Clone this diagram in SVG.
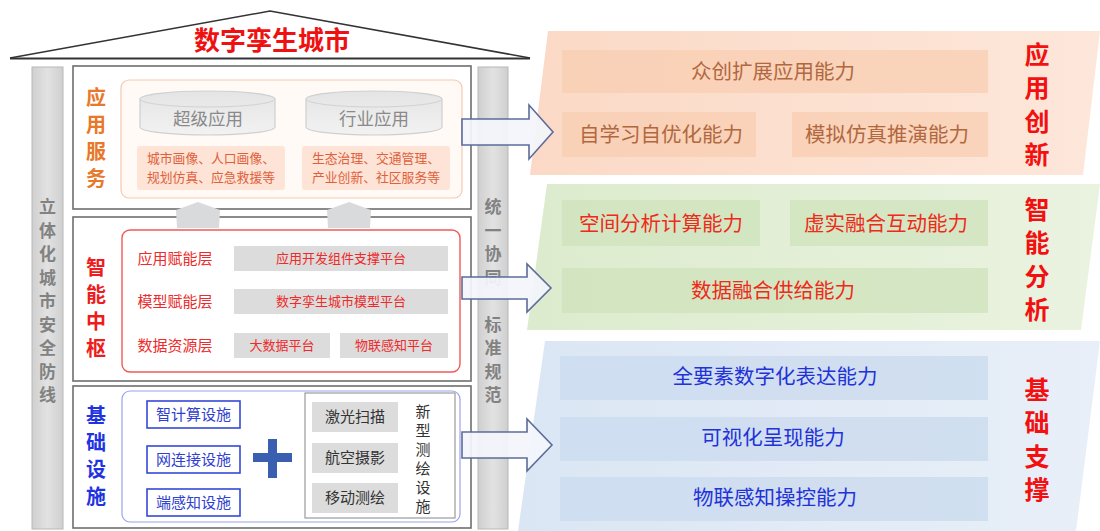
<svg xmlns="http://www.w3.org/2000/svg" width="1100" height="531" viewBox="0 0 1100 531">
<defs>
<linearGradient id="gPeach" x1="0" y1="0" x2="1" y2="0"><stop offset="0" stop-color="#fbd9c6"/><stop offset="1" stop-color="#fde7da"/></linearGradient>
<linearGradient id="gGreen" x1="0" y1="0" x2="1" y2="0"><stop offset="0" stop-color="#dcebcd"/><stop offset="1" stop-color="#eaf3e0"/></linearGradient>
<linearGradient id="gBlue" x1="0" y1="0" x2="1" y2="0"><stop offset="0" stop-color="#dbe6f4"/><stop offset="1" stop-color="#e8eff8"/></linearGradient>
<linearGradient id="gCyl" x1="0" y1="0" x2="0" y2="1"><stop offset="0" stop-color="#e4e4e4"/><stop offset="1" stop-color="#f2f2f2"/></linearGradient>
<linearGradient id="gPillar" x1="0" y1="0" x2="1" y2="0"><stop offset="0" stop-color="#cfcfcf"/><stop offset="0.5" stop-color="#e2e2e2"/><stop offset="1" stop-color="#cfcfcf"/></linearGradient>
</defs>
<style>
text{font-family:"Noto Sans CJK SC","Noto Sans",sans-serif;text-anchor:middle}
.sec{fill:#fff;stroke:#6e6e6e;stroke-width:1.6}
.pillar{fill:url(#gPillar);stroke:#b8b8b8;stroke-width:1}
.ptxt{font-size:17px;font-weight:700;fill:#828282}
.lblO{font-size:20px;font-weight:700;fill:#e8782a}
.lblR{font-size:20px;font-weight:700;fill:#ee1c1c}
.lblB{font-size:20px;font-weight:700;fill:#1f34e0}
.cyl{fill:url(#gCyl);stroke:#cfcfcf;stroke-width:1.2}
.cyltxt{font-size:17.5px;fill:#8a8a8a}
.obox{fill:#fde4d6;stroke:none}
.otxt{font-size:12.8px;fill:#e0603c}
.gbar{fill:#dcdcdc}
.rtxt{font-size:13px;fill:#ee2a2a}
.rlbl{font-size:15px;fill:#ee2a2a}
.bbox{fill:#fff;stroke:#3548d8;stroke-width:1.6}
.btxt{font-size:15px;fill:#3040d0}
.mtxt{font-size:15px;fill:#333}
.arrow{fill:#f3f5fb;stroke:#5c6c9a;stroke-width:1.6;fill-opacity:0.93}
.uparr{fill:#d8dadb}
.bar1{fill:#f8cdb2;opacity:0.75}
.bar2{fill:#cfe3bd;opacity:0.8}
.bar3{fill:#cddcef;opacity:0.85}
.t1{font-size:20.5px;fill:#b2683f}
.t2{font-size:20.5px;fill:#ee2a1a}
.t3{font-size:20.5px;fill:#2232d8}
.side{font-size:25px;font-weight:700;fill:#f21010}
</style>

<!-- right panels -->
<g id="panel-app">
<polygon points="548,31 1100,31 1083,175 530,175" fill="url(#gPeach)"/>
<rect class="bar1" x="562" y="50" width="426" height="43"/>
<rect class="bar1" x="562" y="112" width="194" height="45"/>
<rect class="bar1" x="792" y="112" width="196" height="45"/>
<text class="t1" x="773" y="79">众创扩展应用能力</text>
<text class="t1" x="661" y="142">自学习自优化能力</text>
<text class="t1" x="887" y="142">模拟仿真推演能力</text>
<text class="side" x="1037"><tspan x="1037" y="64">应</tspan><tspan x="1037" y="97">用</tspan><tspan x="1037" y="131">创</tspan><tspan x="1037" y="164">新</tspan></text>
</g>
<g id="panel-smart">
<polygon points="547,184 1100,184 1081,330 527,330" fill="url(#gGreen)"/>
<rect class="bar2" x="562" y="200" width="198" height="46"/>
<rect class="bar2" x="790" y="200" width="198" height="46"/>
<rect class="bar2" x="562" y="268" width="426" height="45"/>
<text class="t2" x="661" y="231">空间分析计算能力</text>
<text class="t2" x="886" y="231">虚实融合互动能力</text>
<text class="t2" x="773" y="298">数据融合供给能力</text>
<text class="side" x="1037"><tspan x="1037" y="219">智</tspan><tspan x="1037" y="252">能</tspan><tspan x="1037" y="286">分</tspan><tspan x="1037" y="319">析</tspan></text>
</g>
<g id="panel-base">
<polygon points="545,341 1100,341 1076,531 518,531" fill="url(#gBlue)"/>
<rect class="bar3" x="560" y="356" width="428" height="44"/>
<rect class="bar3" x="560" y="417" width="428" height="44"/>
<rect class="bar3" x="560" y="477" width="428" height="44"/>
<text class="t3" x="775" y="384">全要素数字化表达能力</text>
<text class="t3" x="773" y="445">可视化呈现能力</text>
<text class="t3" x="775" y="505">物联感知操控能力</text>
<text class="side" x="1037"><tspan x="1037" y="399">基</tspan><tspan x="1037" y="432">础</tspan><tspan x="1037" y="466">支</tspan><tspan x="1037" y="499">撑</tspan></text>
</g>

<!-- roof -->
<g id="roof">
<polyline points="10,58 270,11 530,58" fill="none" stroke="#333" stroke-width="1.5"/>
<line x1="10" y1="58.5" x2="530" y2="58.5" stroke="#333" stroke-width="2"/>
<text x="272" y="50" font-size="26" font-weight="700" fill="#ee1111">数字孪生城市</text>
</g>

<!-- pillars -->
<g id="pillar-left">
<rect class="pillar" x="32" y="67" width="31" height="462"/>
<text class="ptxt"><tspan x="47.5" y="213">立</tspan><tspan x="47.5" y="236.5">体</tspan><tspan x="47.5" y="260">化</tspan><tspan x="47.5" y="283.5">城</tspan><tspan x="47.5" y="307">市</tspan><tspan x="47.5" y="330.5">安</tspan><tspan x="47.5" y="354">全</tspan><tspan x="47.5" y="377.5">防</tspan><tspan x="47.5" y="401">线</tspan></text>
</g>
<g id="pillar-right">
<rect class="pillar" x="478" y="67" width="30" height="462"/>
<text class="ptxt"><tspan x="493" y="213">统</tspan><tspan x="493" y="236.5">一</tspan><tspan x="493" y="260">协</tspan><tspan x="493" y="283.5">同</tspan><tspan x="493" y="330.5">标</tspan><tspan x="493" y="354">准</tspan><tspan x="493" y="377.5">规</tspan><tspan x="493" y="401">范</tspan></text>
</g>

<!-- section 1 -->
<g id="app-service">
<rect class="sec" x="73" y="66" width="398" height="143"/>
<text class="lblO"><tspan x="96" y="105">应</tspan><tspan x="96" y="132">用</tspan><tspan x="96" y="159">服</tspan><tspan x="96" y="186">务</tspan></text>
<rect x="121" y="80" width="341" height="118" rx="8" fill="#fffaf6" stroke="#f5c9b0" stroke-width="1.2"/>
<path class="cyl" d="M140,99 v28 a67.5,8 0 0 0 135,0 v-28 a67.5,8 0 0 0 -135,0 z"/>
<path d="M140,99 a67.5,8 0 0 0 135,0" fill="none" stroke="#d2d2d2"/>
<text class="cyltxt" x="208" y="125">超级应用</text>
<path class="cyl" d="M306,99 v28 a68,8 0 0 0 136,0 v-28 a68,8 0 0 0 -136,0 z"/>
<path d="M306,99 a68,8 0 0 0 136,0" fill="none" stroke="#d2d2d2"/>
<text class="cyltxt" x="374" y="125">行业应用</text>
<rect class="obox" x="137" y="146" width="148" height="44" rx="3"/>
<rect class="obox" x="302" y="146" width="148" height="44" rx="3"/>
<text class="otxt" x="211" y="163">城市画像、人口画像、</text>
<text class="otxt" x="211" y="182">规划仿真、应急救援等</text>
<text class="otxt" x="376" y="163">生态治理、交通管理、</text>
<text class="otxt" x="376" y="182">产业创新、社区服务等</text>
</g>

<!-- section 2 -->
<g id="smart-hub">
<rect class="sec" x="73" y="217" width="398" height="164"/>
<text class="lblR"><tspan x="96" y="275">智</tspan><tspan x="96" y="302">能</tspan><tspan x="96" y="329">中</tspan><tspan x="96" y="356">枢</tspan></text>
<rect x="122" y="230" width="338" height="142" rx="8" fill="#fff" stroke="#f25a5a" stroke-width="1.4"/>
<text class="rlbl" x="175" y="264">应用赋能层</text>
<text class="rlbl" x="175" y="307">模型赋能层</text>
<text class="rlbl" x="175" y="351">数据资源层</text>
<rect class="gbar" x="234" y="246" width="214" height="25"/>
<rect class="gbar" x="234" y="289" width="214" height="25"/>
<rect class="gbar" x="234" y="333" width="96" height="25"/>
<rect class="gbar" x="340" y="333" width="108" height="25"/>
<text class="rtxt" x="341" y="263">应用开发组件支撑平台</text>
<text class="rtxt" x="341" y="306">数字孪生城市模型平台</text>
<text class="rtxt" x="282" y="350">大数据平台</text>
<text class="rtxt" x="394" y="350">物联感知平台</text>
</g>

<!-- section 3 -->
<g id="base-infra">
<rect class="sec" x="73" y="386" width="398" height="142"/>
<text class="lblB"><tspan x="96" y="423">基</tspan><tspan x="96" y="450">础</tspan><tspan x="96" y="477">设</tspan><tspan x="96" y="504">施</tspan></text>
<rect x="122" y="391" width="338" height="131" rx="8" fill="#fff" stroke="#9aa4ea" stroke-width="1.2"/>
<rect class="bbox" x="147" y="401" width="93" height="27"/>
<rect class="bbox" x="147" y="446" width="93" height="27"/>
<rect class="bbox" x="147" y="489" width="93" height="27"/>
<text class="btxt" x="193.5" y="420">智计算设施</text>
<text class="btxt" x="193.5" y="465">网连接设施</text>
<text class="btxt" x="193.5" y="508">端感知设施</text>
<path d="M268,439 h9 v14 h15 v9 h-15 v16 h-9 v-16 h-15 v-9 h15 z" fill="#3b5fb0"/>
<rect x="305" y="393" width="150" height="125" fill="#fff" stroke="#9a9a9a" stroke-width="1.2"/>
<rect class="gbar" x="312" y="402" width="86" height="30"/>
<rect class="gbar" x="312" y="443" width="86" height="30"/>
<rect class="gbar" x="312" y="483" width="86" height="30"/>
<text class="mtxt" x="355" y="422">激光扫描</text>
<text class="mtxt" x="355" y="463">航空摄影</text>
<text class="mtxt" x="355" y="503">移动测绘</text>
<text class="mtxt" font-size="16"><tspan x="423" y="417">新</tspan><tspan x="423" y="436">型</tspan><tspan x="423" y="455">测</tspan><tspan x="423" y="474">绘</tspan><tspan x="423" y="493">设</tspan><tspan x="423" y="512">施</tspan></text>
</g>

<!-- connectors -->
<g id="connectors">
<polygon class="uparr" points="177,228 176,210 198,202 220,210 219,228"/>
<polygon class="uparr" points="328,228 327,210 349,202 371,210 370,228"/>
<path class="arrow" d="M462,119 H529 V105 L553,132 L529,159 V145 H462 Z"/>
<path class="arrow" d="M462,277 H527 V264 L551,288 L527,312 V299 H462 Z"/>
<path class="arrow" d="M462,432 H527 V419 L552,445 L527,471 V458 H462 Z"/>
</g>
</svg>
